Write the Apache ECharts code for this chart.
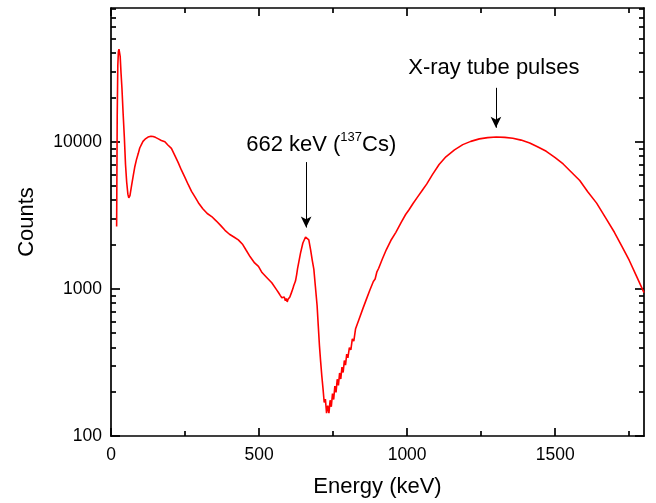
<!DOCTYPE html>
<html><head><meta charset="utf-8">
<script src="https://cdn.jsdelivr.net/npm/echarts@6/dist/echarts.min.js"></script>
<style>html,body{margin:0;padding:0;background:#fff}#c{width:656px;height:503px}</style>
</head><body><div id="c"></div>
<script>
var energy = [19,21,23,25,27,29,31,34,37,41,45,49,53,57,60,64,70,75,80,86,92,97,103,108,115,125,135,142,150,160,170,182,192,204,215,227,238,250,261,272,284,295,310,325,340,355,370,385,400,415,430,445,455,470,485,498,510,525,543,560,566,572,577,581,585,589,592,595,598,601,604,607,610,614,617,620,623,627,630,635,640,648,657,662,668,674,680,685,690,696,700,704,708,712,716,720,724,728,732,736,740,744,748,752,756,760,764,768,772,776,780,784,788,792,796,800,805,810,815,820,826,832,838,844,850,856,862,868,874,880,886,892,898,904,916,930,945,962,980,995,1007,1020,1035,1052,1066,1086,1108,1131,1160,1188,1215,1244,1272,1301,1330,1357,1385,1414,1442,1470,1500,1527,1555,1583,1610,1640,1670,1700,1725,1750,1775,1800];
var counts = [2650,15000,33000,41000,42500,41500,38000,29000,23000,15500,10800,7000,5300,4400,4150,4300,5100,5850,6700,7550,8300,9060,9600,10050,10400,10750,10900,10850,10700,10450,10200,10000,9500,9000,8100,7200,6400,5700,5100,4600,4200,3850,3500,3250,3100,2900,2700,2500,2350,2250,2150,2000,1850,1650,1500,1420,1290,1200,1100,980,940,900,870,850,880,830,860,815,850,830,880,900,950,1000,1050,1080,1130,1250,1370,1550,1750,2050,2250,2280,2150,1850,1550,1360,1050,770,560,410,320,255,210,169,178,143,161,143,175,158,194,177,218,198,243,221,268,244,294,270,326,303,360,340,399,385,457,442,536,533,624,619,728,737,845,854,979,1000,1122,1166,1306,1380,1590,1850,2130,2420,2830,3200,3460,3800,4200,4700,5150,6000,7000,7900,8800,9550,10050,10450,10650,10750,10700,10550,10250,9800,9200,8600,7800,7056,6200,5452,4570,3824,3045,2424,1950,1565,1216,943];
var xMajor = [0,500,1000,1500];
var xMinor = [250,750,1250,1750];
var yMajor = [100,1000,10000];
var yMinor = [200,300,400,500,600,700,800,900,2000,3000,4000,5000,6000,7000,8000,9000,20000,30000,40000,50000,60000,70000,80000];
var xLabel = 'Energy (keV)';
var yLabel = 'Counts';
var ann1 = {x: 710, y: 9740, arrowX: 659, arrowTop: 7270, arrowTip: 2610};
var ann2 = {x: 1293, y: 31900, arrowX: 1300, arrowTop: 23230, arrowTip: 12440, text: 'X-ray tube pulses'};

var FONT = 'Liberation Sans, Arial, sans-serif';
var X_MIN = 0, X_MAX = 1800, Y_MIN = 100, Y_MAX = 81000;
var lineStyle = {color: '#000', width: 1.7};
function plain(v) { return String(Math.round(v)); }

function xAx(pos, ticks, len, line, labels) {
  return {
    type: 'value', position: pos, min: X_MIN, max: X_MAX, interval: 500,
    axisLine: {show: line, onZero: false, lineStyle: lineStyle},
    axisTick: {show: true, inside: true, length: len, customValues: ticks, lineStyle: lineStyle},
    axisLabel: {show: labels, customValues: labels ? ticks : undefined, formatter: plain, fontSize: 17.5, color: '#000', fontFamily: FONT, margin: 10},
    splitLine: {show: false}
  };
}
function yAx(pos, ticks, len, line, labels) {
  return {
    type: 'log', logBase: 10, position: pos, min: Y_MIN, max: Y_MAX,
    axisLine: {show: line, onZero: false, lineStyle: lineStyle},
    axisTick: {show: true, inside: true, length: len, customValues: ticks, lineStyle: lineStyle},
    axisLabel: {show: labels, customValues: labels ? ticks : undefined, formatter: plain, fontSize: 17.5, color: '#000', fontFamily: FONT, margin: 9},
    splitLine: {show: false}, minorTick: {show: false}
  };
}
var xAxes = [xAx('bottom', xMajor, 8, true, true), xAx('bottom', xMinor, 5, false, false), xAx('top', xMajor, 8, true, false), xAx('top', xMinor, 5, false, false)];
xAxes[0].name = xLabel; xAxes[0].nameLocation = 'middle'; xAxes[0].nameGap = 40;
xAxes[0].nameTextStyle = {fontSize: 22, color: '#000', fontFamily: FONT};
var yAxes = [yAx('left', yMajor, 9, true, true), yAx('left', yMinor, 5, false, false), yAx('right', yMajor, 9, true, false), yAx('right', yMinor, 5, false, false)];
yAxes[0].name = yLabel; yAxes[0].nameLocation = 'middle'; yAxes[0].nameGap = 73;
yAxes[0].nameTextStyle = {fontSize: 22, color: '#000', fontFamily: FONT};

var data = energy.map(function (e, i) { return [e, counts[i]]; });
var chart = echarts.init(document.getElementById('c'), null, {renderer: 'canvas'});
chart.setOption({
  animation: false,
  backgroundColor: '#fff',
  grid: {left: 111, right: 12, top: 8, bottom: 66, containLabel: false},
  xAxis: xAxes,
  yAxis: yAxes,
  series: [{
    type: 'line', data: data, xAxisIndex: 0, yAxisIndex: 0,
    showSymbol: false, symbol: 'none',
    lineStyle: {color: '#ff0000', width: 1.6},
    markLine: {
      silent: true, symbol: ['none', 'arrow'], symbolSize: [8, 11],
      lineStyle: {color: '#000', width: 1, type: 'solid'},
      label: {show: false},
      data: [
        [{coord: [ann1.arrowX, ann1.arrowTop]}, {coord: [ann1.arrowX, ann1.arrowTip]}],
        [{coord: [ann2.arrowX, ann2.arrowTop]}, {coord: [ann2.arrowX, ann2.arrowTip]}]
      ]
    },
    markPoint: {
      silent: true, symbol: 'circle', symbolSize: 0,
      label: {show: true, position: 'inside', color: '#000', fontFamily: FONT},
      data: [
        {coord: [ann1.x, ann1.y], label: {
          formatter: '{a|662 keV (}{s|137}{a|Cs)}',
          rich: {a: {fontSize: 22, fontFamily: FONT, color: '#000', lineHeight: 25, verticalAlign: 'bottom'},
                 s: {fontSize: 13, fontFamily: FONT, color: '#000', lineHeight: 25, verticalAlign: 'top'}}
        }},
        {coord: [ann2.x, ann2.y], label: {formatter: ann2.text, fontSize: 22, fontFamily: FONT, color: '#000'}}
      ]
    }
  }]
});
</script></body></html>
